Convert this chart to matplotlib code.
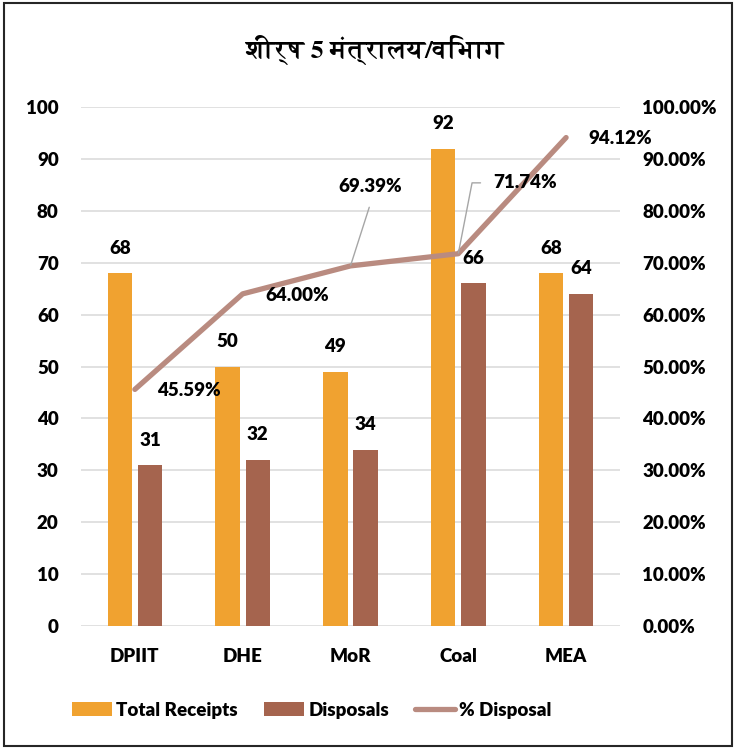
import matplotlib
matplotlib.use("Agg")
import matplotlib.pyplot as plt
from matplotlib import font_manager
from matplotlib.ft2font import FT2Font
from matplotlib.patches import Rectangle, Patch
from matplotlib.lines import Line2D

# ---- data ----
categories = ["DPIIT", "DHE", "MoR", "Coal", "MEA"]
total_receipts = [68, 50, 49, 92, 68]
disposals = [31, 32, 34, 66, 64]
pct_disposal = [45.59, 64.00, 69.39, 71.74, 94.12]
left_ticks = list(range(0, 101, 10))
title_text = "शीर्ष 5 मंत्रालय/विभाग"

# ---- fonts ----
def find_devanagari_font():
    best = None
    for f in font_manager.fontManager.ttflist:
        try:
            cmap = FT2Font(f.fname).get_charmap()
        except Exception:
            continue
        if 0x0936 in cmap and 0x092E in cmap:
            wt = f.weight if isinstance(f.weight, int) else 400
            if best is None or abs(wt - 700) < abs(best[1] - 700):
                best = (f.name, wt)
    return best[0] if best else None

deva = find_devanagari_font()
base_font = "Lato"
title_family = ([deva] if deva else []) + [base_font, "DejaVu Sans"]
plt.rcParams["font.family"] = [base_font, "DejaVu Sans"]
WEIGHT = "heavy"
plt.rcParams["font.weight"] = WEIGHT

ORANGE = "#F0A230"
BROWN = "#A5644E"
LINE = "#B98B80"
GRID = "#D9D9D9"
FS = 13.5

fig = plt.figure(figsize=(7.36, 7.49), dpi=100)
ax = fig.add_axes([0.110, 0.1642, 0.7324, 0.6929])
ax2 = ax.twinx()

x = list(range(len(categories)))
off, w = 0.14, 0.227
ax.bar([i - off for i in x], total_receipts, width=w, color=ORANGE, zorder=2)
ax.bar([i + off for i in x], disposals, width=w, color=BROWN, zorder=2)

for i, v in enumerate(total_receipts):
    ax.annotate(str(v), (i - off, v), xytext=(0, 18), textcoords="offset points",
                ha="center", va="center", fontsize=FS, fontweight=WEIGHT)
for i, v in enumerate(disposals):
    ax.annotate(str(v), (i + off, v), xytext=(0, 18), textcoords="offset points",
                ha="center", va="center", fontsize=FS, fontweight=WEIGHT)

ax.set_xlim(-0.5, len(categories) - 0.5)
ax.set_ylim(0, 100)
ax.set_yticks(left_ticks)
ax.set_yticklabels([str(t) for t in left_ticks])
ax.set_xticks(x)
ax.set_xticklabels(categories)
ax.tick_params(axis="both", length=0, labelsize=FS)
ax.tick_params(axis="y", pad=16)
ax.tick_params(axis="x", pad=16)
ax.grid(axis="y", color=GRID, linewidth=1.1, zorder=0)
ax.set_axisbelow(True)
for s in ax.spines.values():
    s.set_visible(False)

# secondary axis (percent)
ax2.set_ylim(0, 100)
ax2.set_yticks(left_ticks)
ax2.set_yticklabels([f"{t:.2f}%" for t in left_ticks])
ax2.tick_params(axis="y", length=0, labelsize=FS, pad=16)
for s in ax2.spines.values():
    s.set_visible(False)

ax2.plot(x, pct_disposal, color=LINE, linewidth=3.8, solid_capstyle="round",
         solid_joinstyle="round", zorder=3)

# percent labels
lbl_kw = dict(textcoords="offset points", fontsize=FS, fontweight=WEIGHT)
for i in (0, 1, 4):
    ax2.annotate(f"{pct_disposal[i]:.2f}%", (x[i], pct_disposal[i]),
                 xytext=(16, -1), ha="left", va="center", **lbl_kw)
ax2.annotate(f"{pct_disposal[2]:.2f}%", (x[2], pct_disposal[2]),
             xytext=(14, 57), ha="center", va="center",
             arrowprops=dict(arrowstyle="-", color="#A6A6A6", lw=1.0,
                             relpos=(0.55, 0.0), shrinkA=7, shrinkB=0.5),
             **lbl_kw)
ax2.annotate(f"{pct_disposal[3]:.2f}%", (x[3], pct_disposal[3]),
             xytext=(25, 51), ha="left", va="center",
             arrowprops=dict(arrowstyle="-", color="#A6A6A6", lw=1.0,
                             relpos=(0.0, 0.5), shrinkA=7, shrinkB=0.5,
                             connectionstyle="angle,angleA=180,angleB=79,rad=0"),
             **lbl_kw)

# title
fig.text(0.508, 0.933, title_text, ha="center", va="center", fontsize=19,
         fontweight="bold", family=title_family)

# legend
handles = [Patch(facecolor=ORANGE, label="Total Receipts"),
           Patch(facecolor=BROWN, label="Disposals"),
           Line2D([0], [0], color=LINE, linewidth=3.8, solid_capstyle="round",
                  label="% Disposal")]
fig.legend(handles=handles, loc="center", bbox_to_anchor=(0.424, 0.052), ncol=3,
           frameon=False, fontsize=FS, handlelength=2.1, handletextpad=0.25,
           columnspacing=1.4, handleheight=0.7)

# outer border
fig.add_artist(Rectangle((0.006, 0.004), 0.988, 0.992, transform=fig.transFigure,
                         fill=False, edgecolor="#262626", linewidth=1.5))

fig.savefig("out.png", dpi=100)
